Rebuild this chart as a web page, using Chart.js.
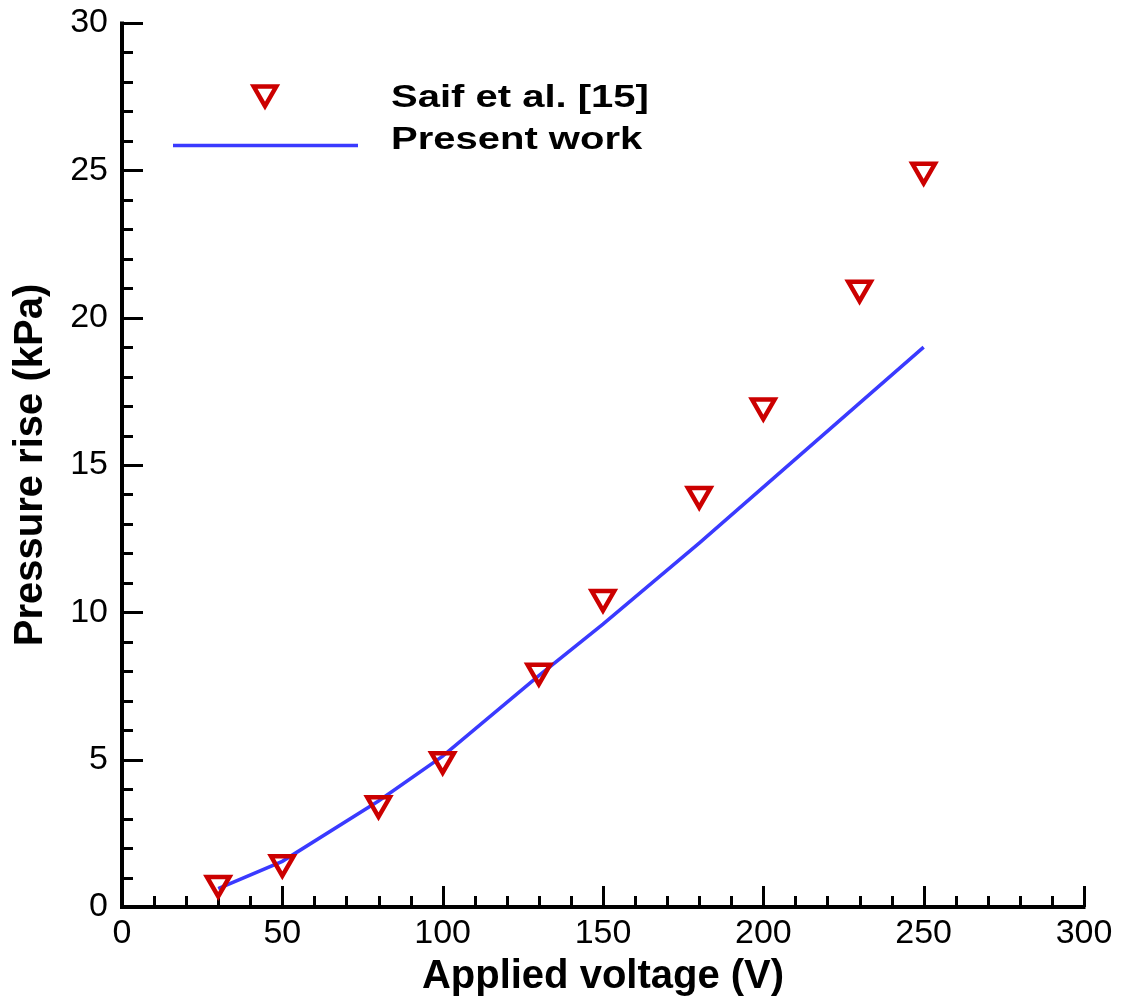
<!DOCTYPE html>
<html>
<head>
<meta charset="utf-8">
<script src="https://cdn.jsdelivr.net/npm/chart.js@4.4.1/dist/chart.umd.min.js"></script>
<style>
  html, body { margin: 0; padding: 0; background: #fff; }
  canvas { display: block; }
</style>
</head>
<body>
<canvas id="chart" width="1123" height="1001"></canvas>
<script>
// --- data ---
const voltage = [30, 50, 80, 100, 130, 150, 180, 200, 230, 250];
const saifPressure = [0.8, 1.5, 3.5, 5, 8, 10.5, 14, 17, 21, 25];
const presentPressure = [0.62, 1.55, 3.6, 5.12, 7.85, 9.6, 12.35, 14.25, 17.1, 19.0];

const seriesLabels = ['Saif et al. [15]', 'Present work'];

const xTicks = { min: 0, max: 300, major: 50, minor: 10 };
const yTicks = { min: 0, max: 30, major: 5, minor: 1 };

const FONT = '"Liberation Sans", Arial, Helvetica, sans-serif';
const RED = '#cc0000';
const BLUE = '#3a3aff';

const toPoints = (xs, ys) => xs.map((v, i) => ({ x: v, y: ys[i] }));

// Tecplot style axes: thick line, ticks pointing inward, minor ticks
const axesPlugin = {
    id: 'tecAxes',
    beforeDatasetsDraw(chart) {
        const { ctx, chartArea: a, scales: { x, y } } = chart;
        ctx.save();
        ctx.strokeStyle = '#000';
        ctx.lineCap = 'butt';

        ctx.lineWidth = 3;
        ctx.beginPath();
        for (let v = xTicks.min + xTicks.minor; v <= xTicks.max; v += xTicks.minor) {
            const px = Math.round(x.getPixelForValue(v)) + 0.5;
            const len = v % xTicks.major === 0 ? 21 : 11;
            ctx.moveTo(px, a.bottom);
            ctx.lineTo(px, a.bottom - len);
        }
        for (let v = yTicks.min + yTicks.minor; v <= yTicks.max; v += yTicks.minor) {
            const py = Math.round(y.getPixelForValue(v)) + 0.5;
            const len = v % yTicks.major === 0 ? 21 : 11;
            ctx.moveTo(a.left, py);
            ctx.lineTo(a.left + len, py);
        }
        ctx.stroke();

        ctx.lineWidth = 4;
        ctx.beginPath();
        ctx.moveTo(a.left, a.top - 1.5);
        ctx.lineTo(a.left, a.bottom + 2);
        ctx.moveTo(a.left - 2, a.bottom);
        ctx.lineTo(a.right + 1.5, a.bottom);
        ctx.stroke();
        ctx.restore();
    }
};

// legend box inside the plot, upper left
const legendPlugin = {
    id: 'tecLegend',
    afterDraw(chart) {
        const ctx = chart.ctx;
        const labels = chart.data.datasets.map(d => d.label);
        ctx.save();

        // symbol for the measured data
        const cx = 265, cy = 93, r = 13;
        ctx.strokeStyle = RED;
        ctx.lineWidth = 4.5;
        ctx.lineJoin = 'miter';
        ctx.beginPath();
        for (let k = 0; k < 3; k++) {
            const ang = Math.PI + k * 2 * Math.PI / 3;
            const px = cx + Math.sin(ang) * r;
            const py = cy - Math.cos(ang) * r;
            if (k === 0) ctx.moveTo(px, py); else ctx.lineTo(px, py);
        }
        ctx.closePath();
        ctx.stroke();

        // line for the simulation
        ctx.strokeStyle = BLUE;
        ctx.lineWidth = 3.5;
        ctx.beginPath();
        ctx.moveTo(173, 145.5);
        ctx.lineTo(358, 145.5);
        ctx.stroke();

        ctx.fillStyle = '#000';
        ctx.font = 'bold 32px ' + FONT;
        ctx.textBaseline = 'alphabetic';
        ctx.textAlign = 'left';
        [107, 148.5].forEach((base, i) => {
            ctx.save();
            ctx.translate(391, base);
            ctx.scale(1.25, 1);
            ctx.fillText(labels[i], 0, 0);
            ctx.restore();
        });
        ctx.restore();
    }
};

new Chart(document.getElementById('chart').getContext('2d'), {
    type: 'scatter',
    data: {
        datasets: [
            {
                label: seriesLabels[0],
                data: toPoints(voltage, saifPressure),
                showLine: false,
                pointStyle: 'triangle',
                pointRotation: 180,
                pointRadius: 13,
                pointBorderWidth: 4.5,
                pointBorderColor: RED,
                pointBackgroundColor: 'rgba(0,0,0,0)',
                order: 0
            },
            {
                label: seriesLabels[1],
                data: toPoints(voltage, presentPressure),
                showLine: true,
                tension: 0,
                borderColor: BLUE,
                borderWidth: 3.5,
                pointRadius: 0,
                order: 1
            }
        ]
    },
    options: {
        responsive: false,
        animation: false,
        clip: false,
        layout: { padding: { top: 23, right: 39, left: 0, bottom: 0 } },
        plugins: {
            legend: { display: false },
            tooltip: { enabled: false }
        },
        scales: {
            x: {
                type: 'linear',
                min: xTicks.min,
                max: xTicks.max,
                grid: { display: false, drawTicks: false },
                border: { display: false },
                ticks: {
                    stepSize: xTicks.major,
                    color: '#000',
                    padding: 6,
                    font: { family: FONT, size: 34 }
                },
                title: {
                    display: true,
                    text: 'Applied voltage (V)',
                    color: '#000',
                    font: { family: FONT, size: 40, weight: 'bold' },
                    padding: { top: 0, bottom: 0 }
                },
                afterFit(scale) {
                    scale.height = 94;
                    scale.paddingLeft = 0;
                    scale.paddingRight = 0;
                }
            },
            y: {
                type: 'linear',
                min: yTicks.min,
                max: yTicks.max,
                grid: { display: false, drawTicks: false },
                border: { display: false },
                ticks: {
                    stepSize: yTicks.major,
                    color: '#000',
                    padding: 14,
                    font: { family: FONT, size: 34 }
                },
                title: {
                    display: true,
                    text: 'Pressure rise (kPa)',
                    color: '#000',
                    font: { family: FONT, size: 40, weight: 'bold' },
                    padding: { top: 7, bottom: 0 }
                },
                afterFit(scale) {
                    scale.width = 122;
                    scale.paddingTop = 0;
                    scale.paddingBottom = 0;
                }
            }
        }
    },
    plugins: [axesPlugin, legendPlugin]
});
</script>
</body>
</html>
